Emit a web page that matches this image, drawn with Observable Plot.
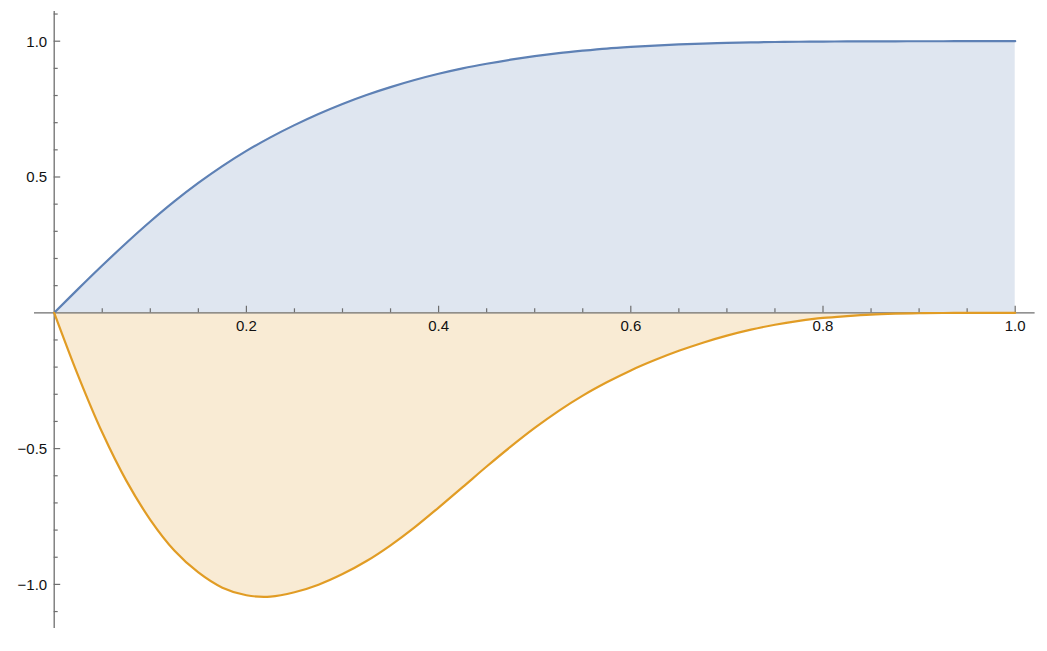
<!DOCTYPE html>
<html>
<head>
<meta charset="utf-8">
<script src="https://cdn.jsdelivr.net/npm/d3@7"></script>
<script src="https://cdn.jsdelivr.net/npm/@observablehq/plot@0.6"></script>
<style>
  html, body { margin: 0; padding: 0; background: #ffffff; }
</style>
</head>
<body>
<div id="chart"></div>
<script>
// ---- data ----
const xs = [0, 0.025, 0.05, 0.075, 0.1, 0.125, 0.15, 0.175, 0.2, 0.225, 0.25, 0.275, 0.3, 0.325, 0.35, 0.375, 0.4, 0.425, 0.45, 0.475, 0.5, 0.525, 0.55, 0.575, 0.6, 0.625, 0.65, 0.675, 0.7, 0.725, 0.75, 0.775, 0.8, 0.825, 0.85, 0.875, 0.9, 0.925, 0.95, 0.975, 1.0];
const blueValues = [0, 0.088, 0.174, 0.257, 0.336, 0.410, 0.478, 0.540, 0.596, 0.646, 0.691, 0.732, 0.769, 0.802, 0.831, 0.857, 0.880, 0.900, 0.917, 0.932, 0.945, 0.956, 0.965, 0.973, 0.979, 0.984, 0.988, 0.991, 0.9935, 0.9955, 0.997, 0.998, 0.9987, 0.9992, 0.9995, 0.9997, 0.9998, 0.9999, 1.0, 1.0, 1.0];
const orangeValues = [0, -0.232, -0.441, -0.618, -0.762, -0.875, -0.956, -1.012, -1.040, -1.045, -1.029, -1.001, -0.962, -0.914, -0.856, -0.790, -0.717, -0.642, -0.566, -0.493, -0.424, -0.361, -0.305, -0.256, -0.212, -0.174, -0.140, -0.110, -0.084, -0.062, -0.044, -0.030, -0.019, -0.012, -0.0065, -0.0034, -0.0016, -0.0007, -0.0003, -0.0001, 0];

const xMajorTicks = [0.2, 0.4, 0.6, 0.8, 1.0];
const xMajorLabels = ["0.2", "0.4", "0.6", "0.8", "1.0"];
const xMinorTicks = [0.05, 0.1, 0.15, 0.25, 0.3, 0.35, 0.45, 0.5, 0.55, 0.65, 0.7, 0.75, 0.85, 0.9, 0.95];
const yMajorTicks = [-1.0, -0.5, 0.5, 1.0];
const yMajorLabels = ["\u22121.0", "\u22120.5", "0.5", "1.0"];
const yMinorTicks = [-1.1, -0.9, -0.8, -0.7, -0.6, -0.4, -0.3, -0.2, -0.1, 0.1, 0.2, 0.3, 0.4, 0.6, 0.7, 0.8, 0.9, 1.1];
const xAxisExtent = [-0.0205, 1.0207];
const yAxisExtent = [-1.162, 1.109];

// ---- tables built from the arrays ----
const blue = xs.map((x, i) => ({x, y: blueValues[i]}));
const orange = xs.map((x, i) => ({x, y: orangeValues[i]}));
const xMajor = xMajorTicks.map((x, i) => ({x, label: xMajorLabels[i]}));
const yMajor = yMajorTicks.map((y, i) => ({y, label: yMajorLabels[i]}));

// ---- styles ----
const xRange = [53.7, 1014.7];
const yRange = [312.3, 40.7];
const kx = 1 / (xRange[1] - xRange[0]);   // data units per pixel
const ky = 1 / (yRange[0] - yRange[1]);
const axisColor = "#6e6e6e";
const blueLine = "#5e81b5", orangeLine = "#e19c24";
const blueFill = "#dfe6f0", orangeFill = "#f9ebd4";
const font = "'Liberation Sans', Arial, sans-serif";
const curve = "catmull-rom";

const chart = Plot.plot({
  width: 1047,
  height: 651,
  margin: 0,
  style: {background: "#ffffff", fontFamily: font, overflow: "visible"},
  x: {domain: [0, 1], range: xRange, axis: null},
  y: {domain: [0, 1], range: yRange, axis: null},
  marks: [
    Plot.areaY(blue, {x: "x", y: "y", fill: blueFill, curve}),
    Plot.areaY(orange, {x: "x", y: "y", fill: orangeFill, curve}),
    // axes
    Plot.ruleY([0], {x1: xAxisExtent[0], x2: xAxisExtent[1], stroke: axisColor, strokeWidth: 1.3}),
    Plot.ruleX([0], {y1: yAxisExtent[0], y2: yAxisExtent[1], stroke: axisColor, strokeWidth: 1.3}),
    Plot.ruleX(xMinorTicks, {x: d => d, y1: 0, y2: 4 * ky, stroke: axisColor, strokeWidth: 1.2}),
    Plot.ruleX(xMajor, {x: "x", y1: 0, y2: 6.5 * ky, stroke: axisColor, strokeWidth: 1.2}),
    Plot.ruleY(yMinorTicks, {y: d => d, x1: 0, x2: 4 * kx, stroke: axisColor, strokeWidth: 1.2}),
    Plot.ruleY(yMajor, {y: "y", x1: 0, x2: 6.5 * kx, stroke: axisColor, strokeWidth: 1.2}),
    // curves
    Plot.line(blue, {x: "x", y: "y", stroke: blueLine, strokeWidth: 2.2, curve}),
    Plot.line(orange, {x: "x", y: "y", stroke: orangeLine, strokeWidth: 2.2, curve}),
    // tick labels
    Plot.text(xMajor, {x: "x", y: 0, text: "label", dy: 13.5, fontSize: 15, fill: "#111", textAnchor: "middle"}),
    Plot.text(yMajor, {x: 0, y: "y", text: "label", dx: -7, dy: 0.5, fontSize: 15, fill: "#111", textAnchor: "end"})
  ]
});
document.getElementById("chart").appendChild(chart);
</script>
</body>
</html>
